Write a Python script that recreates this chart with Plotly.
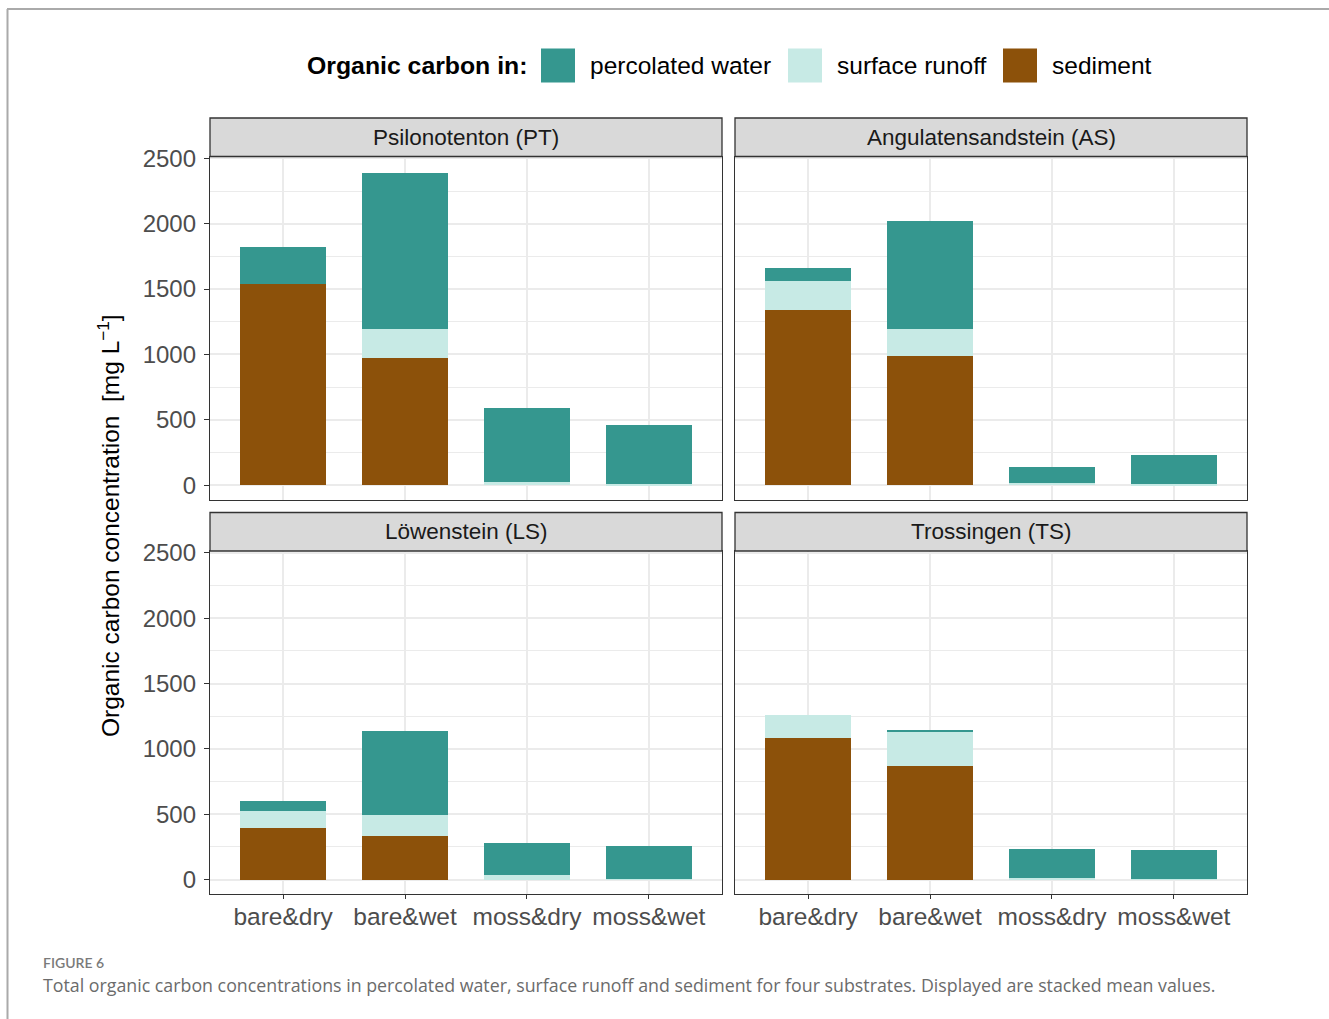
import plotly.graph_objects as go

# ---------------- data ----------------
categories = ["bare&dry", "bare&wet", "moss&dry", "moss&wet"]
substrates = ["Psilonotenton (PT)", "Angulatensandstein (AS)", "Löwenstein (LS)", "Trossingen (TS)"]

sediment_PT = [1537, 971, 0, 0]
runoff_PT = [0, 222, 25, 8]
percolated_PT = [283, 1198, 564, 451]

sediment_AS = [1338, 989, 0, 0]
runoff_AS = [224, 209, 18, 8]
percolated_AS = [97, 823, 122, 221]

sediment_LS = [395, 335, 0, 0]
runoff_LS = [130, 159, 38, 5]
percolated_LS = [77, 644, 241, 253]

sediment_TS = [1087, 871, 0, 0]
runoff_TS = [171, 259, 15, 5]
percolated_TS = [0, 10, 218, 218]

y_ticks = [0, 500, 1000, 1500, 2000, 2500]

series_names = ["sediment", "surface runoff", "percolated water"]
series_colors = {"percolated water": "#35978f", "surface runoff": "#c7eae5", "sediment": "#8c510a"}

panel_data = [
    (sediment_PT, runoff_PT, percolated_PT),
    (sediment_AS, runoff_AS, percolated_AS),
    (sediment_LS, runoff_LS, percolated_LS),
    (sediment_TS, runoff_TS, percolated_TS),
]

# ---------------- layout geometry (pixels) ----------------
W, H = 1329, 1019
def px(x):
    return x / W
def py(y):
    return 1 - y / H

cols = [(210, 722), (735, 1247)]
rows = [(156.5, 499.5), (551, 894)]
strip_h = 38.5

FONT = "Liberation Sans, Arial, sans-serif"
fig = go.Figure()

for i in range(4):
    r, c = divmod(i, 2)
    ax = "" if i == 0 else str(i + 1)
    for name, vals in zip(series_names, panel_data[i]):
        fig.add_trace(go.Bar(
            x=categories, y=vals, name=name,
            marker=dict(color=series_colors[name], line=dict(width=0)),
            width=0.7, showlegend=False,
            xaxis="x" + ax, yaxis="y" + ax,
        ))
    x0, x1 = cols[c]
    y0, y1 = rows[r]
    xkey = "xaxis" + ax
    ykey = "yaxis" + ax
    fig.layout[xkey] = dict(
        domain=[px(x0), px(x1)], anchor="y" + ax, type="category",
        categoryorder="array", categoryarray=categories, automargin=False,
        range=[-0.6, 3.6], showgrid=True, gridcolor="#ebebeb", gridwidth=2,
        showline=True, mirror=True, linecolor="#333333", linewidth=1.3,
        zeroline=False, fixedrange=True,
        ticks="outside" if r == 1 else "", ticklen=4, tickcolor="#333333", tickwidth=1.3,
        showticklabels=(r == 1), ticklabelstandoff=-4,
        tickfont=dict(family=FONT, size=24.5, color="#4d4d4d"),
    )
    fig.layout[ykey] = dict(
        domain=[py(y1), py(y0)], anchor="x" + ax, automargin=False,
        range=[-110, 2514], tickvals=y_ticks,
        showgrid=True, gridcolor="#ebebeb", gridwidth=2,
        minor=dict(tickvals=[250, 750, 1250, 1750, 2250], showgrid=True,
                   gridcolor="#ebebeb", gridwidth=1.1, ticks=""),
        showline=True, mirror=True, linecolor="#333333", linewidth=1.3,
        zeroline=False, fixedrange=True,
        ticks="outside" if c == 0 else "", ticklen=5, tickcolor="#333333", tickwidth=1.3,
        showticklabels=(c == 0), ticklabelstandoff=3,
        tickfont=dict(family=FONT, size=24, color="#4d4d4d"),
    )
    # strip
    fig.add_shape(type="rect", xref="paper", yref="paper",
                  x0=px(x0), x1=px(x1), y0=py(y0), y1=py(y0 - strip_h),
                  fillcolor="#d9d9d9", line=dict(color="#333333", width=1.3), layer="above")
    fig.add_annotation(xref="paper", yref="paper", x=px((x0 + x1) / 2), y=py(y0 - strip_h / 2),
                       text=substrates[i], showarrow=False, xanchor="center", yanchor="middle",
                       font=dict(family=FONT, size=22.5, color="#1a1a1a"))

# y-axis title
fig.add_annotation(xref="paper", yref="paper", x=px(108), y=py(526),
                   text="Organic carbon concentration  [mg L<sup>−1</sup>]", textangle=-90,
                   showarrow=False, xanchor="center", yanchor="middle",
                   font=dict(family=FONT, size=24.5, color="#000000"))

# legend (manual)
fig.add_annotation(xref="paper", yref="paper", x=px(305), y=py(66),
                   text="<b>Organic carbon in:</b>", showarrow=False, xanchor="left", yanchor="middle",
                   font=dict(family=FONT, size=24.8, color="#000000"))
legend_items = [("percolated water", 541), ("surface runoff", 788), ("sediment", 1003)]
for name, kx in legend_items:
    fig.add_shape(type="rect", xref="paper", yref="paper",
                  x0=px(kx), x1=px(kx + 34), y0=py(82.5), y1=py(48.5),
                  fillcolor=series_colors[name], line=dict(width=0))
    fig.add_annotation(xref="paper", yref="paper", x=px(kx + 47), y=py(66),
                       text=name, showarrow=False, xanchor="left", yanchor="middle",
                       font=dict(family=FONT, size=24.5, color="#000000"))

# page frame lines
fig.add_shape(type="line", xref="paper", yref="paper", x0=px(7), x1=1, y0=py(9), y1=py(9),
              line=dict(color="#aaaaaa", width=2))
fig.add_shape(type="line", xref="paper", yref="paper", x0=px(7.5), x1=px(7.5), y0=py(9), y1=0,
              line=dict(color="#aaaaaa", width=2))

# caption
fig.add_annotation(xref="paper", yref="paper", x=px(41), y=py(962),
                   text="FIGURE 6", showarrow=False, xanchor="left", yanchor="middle",
                   font=dict(family="Lato, Open Sans, sans-serif", size=14, color="#7a7a7a", weight=600))
fig.add_annotation(xref="paper", yref="paper", x=px(41), y=py(985),
                   text="Total organic carbon concentrations in percolated water, surface runoff and sediment for four substrates. Displayed are stacked mean values.",
                   showarrow=False, xanchor="left", yanchor="middle",
                   font=dict(family="Open Sans, Lato, sans-serif", size=17.8, color="#6b6b6b"))

fig.update_layout(
    width=W, height=H, margin=dict(l=0, r=0, t=0, b=0, pad=0),
    paper_bgcolor="white", plot_bgcolor="white", barmode="stack",
    showlegend=False, bargap=0.3,
)

fig.write_html("out.html", config={"displayModeBar": False},
               post_script="document.body.style.margin='0';document.body.style.overflow='hidden';")
